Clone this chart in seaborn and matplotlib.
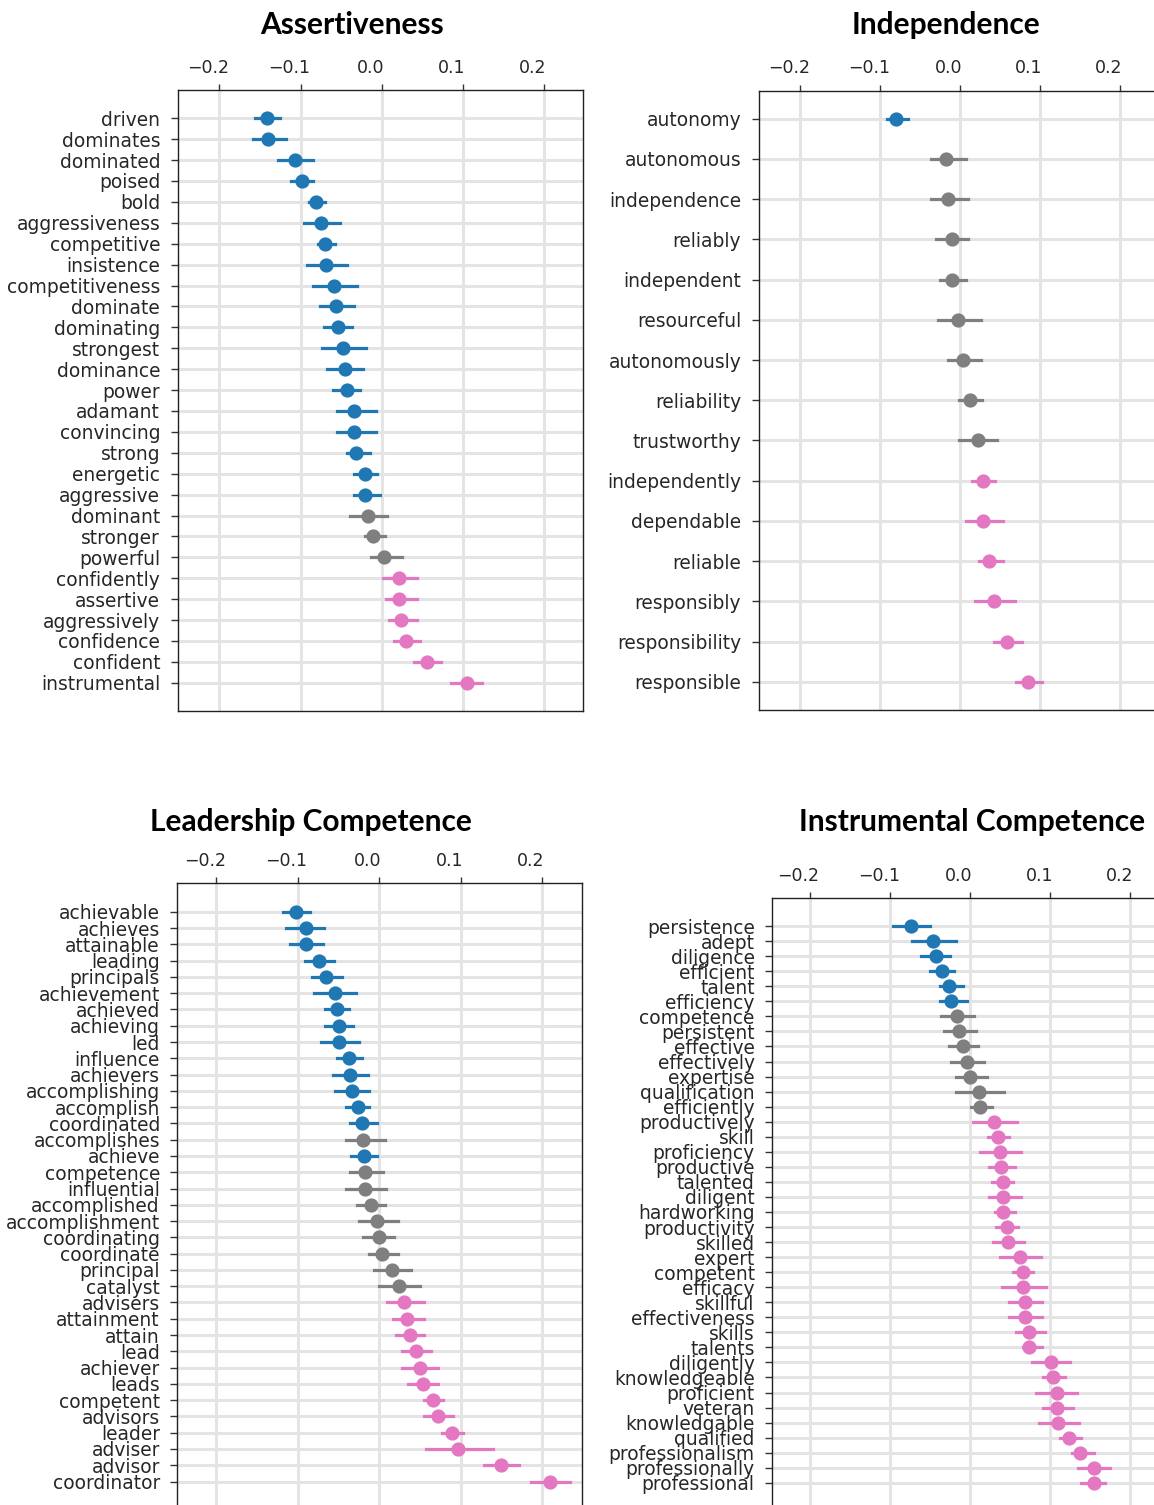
import numpy as np
import pandas as pd
import matplotlib
matplotlib.use("Agg")
import matplotlib.pyplot as plt
import seaborn as sns
from matplotlib.transforms import ScaledTranslation

# ---------------------------------------------------------------- data
# Each word: point estimate with lower / upper interval bound.
# Significance code: B = below zero, G = not significant, P = above zero.

assert_words = ["driven", "dominates", "dominated", "poised", "bold", "aggressiveness",
                "competitive", "insistence", "competitiveness", "dominate", "dominating",
                "strongest", "dominance", "power", "adamant", "convincing", "strong",
                "energetic", "aggressive", "dominant", "stronger", "powerful", "confidently",
                "assertive", "aggressively", "confidence", "confident", "instrumental"]
assert_mid = [-0.141, -0.140, -0.107, -0.098, -0.081, -0.075, -0.070, -0.068, -0.059, -0.056,
              -0.054, -0.047, -0.045, -0.043, -0.034, -0.034, -0.031, -0.020, -0.020, -0.017,
              -0.011, 0.003, 0.022, 0.022, 0.024, 0.030, 0.056, 0.105]
assert_lo = [-0.156, -0.159, -0.128, -0.112, -0.090, -0.096, -0.079, -0.092, -0.085, -0.076,
             -0.071, -0.073, -0.067, -0.060, -0.055, -0.055, -0.043, -0.034, -0.034, -0.039,
             -0.020, -0.013, 0.002, 0.005, 0.009, 0.016, 0.040, 0.086]
assert_hi = [-0.125, -0.118, -0.085, -0.084, -0.070, -0.051, -0.058, -0.042, -0.030, -0.034,
             -0.037, -0.019, -0.023, -0.026, -0.007, -0.007, -0.014, -0.005, -0.002, 0.007,
             0.004, 0.025, 0.044, 0.044, 0.044, 0.048, 0.073, 0.124]
assert_sig = list("BBBBBBBBBBBBBBBBBBBGGGPPPPPP")

indep_words = ["autonomy", "autonomous", "independence", "reliably", "independent",
               "resourceful", "autonomously", "reliability", "trustworthy", "independently",
               "dependable", "reliable", "responsibly", "responsibility", "responsible"]
indep_mid = [-0.080, -0.017, -0.015, -0.010, -0.010, -0.003, 0.004, 0.013, 0.022, 0.029,
             0.029, 0.036, 0.043, 0.059, 0.085]
indep_lo = [-0.091, -0.036, -0.036, -0.030, -0.025, -0.027, -0.015, -0.001, -0.001, 0.015,
            0.008, 0.024, 0.019, 0.042, 0.070]
indep_hi = [-0.065, 0.008, 0.010, 0.010, 0.008, 0.026, 0.026, 0.027, 0.046, 0.044,
            0.054, 0.054, 0.069, 0.077, 0.102]
indep_sig = list("BGGGGGGGGPPPPPP")

lead_words = ["achievable", "achieves", "attainable", "leading", "principals", "achievement",
              "achieved", "achieving", "led", "influence", "achievers", "accomplishing",
              "accomplish", "coordinated", "accomplishes", "achieve", "competence",
              "influential", "accomplished", "accomplishment", "coordinating", "coordinate",
              "principal", "catalyst", "advisers", "attainment", "attain", "lead", "achiever",
              "leads", "competent", "advisors", "leader", "adviser", "advisor", "coordinator"]
lead_mid = [-0.102, -0.090, -0.090, -0.074, -0.065, -0.054, -0.051, -0.049, -0.049, -0.037,
            -0.035, -0.033, -0.026, -0.021, -0.020, -0.019, -0.017, -0.017, -0.010, -0.003,
            0.000, 0.004, 0.016, 0.025, 0.031, 0.034, 0.038, 0.045, 0.050, 0.054,
            0.066, 0.073, 0.089, 0.097, 0.150, 0.210]
lead_lo = [-0.118, -0.114, -0.109, -0.091, -0.082, -0.080, -0.066, -0.066, -0.071, -0.052,
           -0.057, -0.054, -0.040, -0.036, -0.041, -0.034, -0.036, -0.041, -0.027, -0.024,
           -0.020, -0.012, -0.006, 0.000, 0.010, 0.017, 0.021, 0.028, 0.028, 0.035,
           0.055, 0.055, 0.077, 0.058, 0.129, 0.186]
lead_hi = [-0.085, -0.067, -0.069, -0.055, -0.046, -0.028, -0.037, -0.032, -0.025, -0.021,
           -0.014, -0.012, -0.012, -0.002, 0.007, -0.002, 0.005, 0.009, 0.007, 0.023,
           0.018, 0.023, 0.039, 0.050, 0.055, 0.055, 0.055, 0.064, 0.073, 0.073,
           0.078, 0.091, 0.103, 0.140, 0.172, 0.234]
lead_sig = list("BBBBBBBBBBBBBBGBGGGGGGGGPPPPPPPPPPPP")

instr_words = ["persistence", "adept", "diligence", "efficient", "talent", "efficiency",
               "competence", "persistent", "effective", "effectively", "expertise",
               "qualification", "efficiently", "productively", "skill", "proficiency",
               "productive", "talented", "diligent", "hardworking", "productivity", "skilled",
               "expert", "competent", "efficacy", "skillful", "effectiveness", "skills",
               "talents", "diligently", "knowledgeable", "proficient", "veteran",
               "knowledgable", "qualified", "professionalism", "professionally", "professional"]
instr_mid = [-0.074, -0.046, -0.043, -0.035, -0.026, -0.024, -0.016, -0.014, -0.009, -0.004,
             0.000, 0.011, 0.013, 0.030, 0.035, 0.037, 0.039, 0.041, 0.041, 0.041,
             0.046, 0.048, 0.062, 0.066, 0.066, 0.068, 0.068, 0.074, 0.074, 0.101,
             0.103, 0.108, 0.108, 0.110, 0.124, 0.137, 0.154, 0.154]
instr_lo = [-0.096, -0.072, -0.061, -0.050, -0.038, -0.038, -0.036, -0.033, -0.026, -0.024,
            -0.017, -0.017, 0.001, 0.004, 0.022, 0.013, 0.024, 0.027, 0.024, 0.031,
            0.033, 0.029, 0.038, 0.054, 0.040, 0.049, 0.049, 0.057, 0.066, 0.077,
            0.091, 0.082, 0.091, 0.086, 0.112, 0.127, 0.135, 0.139]
instr_hi = [-0.050, -0.018, -0.025, -0.020, -0.009, -0.004, 0.005, 0.007, 0.010, 0.017,
            0.021, 0.042, 0.028, 0.058, 0.049, 0.063, 0.056, 0.054, 0.063, 0.056,
            0.060, 0.067, 0.088, 0.079, 0.095, 0.090, 0.090, 0.093, 0.090, 0.125,
            0.118, 0.134, 0.129, 0.136, 0.138, 0.154, 0.175, 0.168]
instr_sig = list("BBBBBBGGGGGGGPPPPPPPPPPPPPPPPPPPPPPPPP")

xticks = [-0.2, -0.1, 0.0, 0.1, 0.2]

# ---------------------------------------------------------------- style
W, H, DPI = 1154, 1505, 100
palette = {"B": "#1f77b4", "G": "#7f7f7f", "P": "#e377c2"}
text_col = "#262626"
grid_col = "#e4e4e4"

plt.rcParams.update({
    "font.family": ["DejaVu Sans"],
    "axes.edgecolor": "#222222",
    "axes.linewidth": 1.0,
})


def long_frame(words, lo, mid, hi, sig):
    rows = []
    for w, a, m, b, s in zip(words, lo, mid, hi, sig):
        for v in (a, m, b):
            rows.append({"word": w, "value": v, "sig": s})
    return pd.DataFrame(rows)


fig = plt.figure(figsize=(W / DPI, H / DPI), dpi=DPI)


def panel(words, lo, mid, hi, sig, left, right, zero, unit, top, bottom, title, title_xy):
    ax = fig.add_axes([left / W, 1 - bottom / H, (right - left) / W, (bottom - top) / H])
    df = long_frame(words, lo, mid, hi, sig)
    sns.pointplot(data=df, x="value", y="word", hue="sig", order=words,
                  hue_order=["B", "G", "P"], palette=palette,
                  estimator="median", errorbar=("pi", 100),
                  linestyle="none", markers="o", markersize=8.2,
                  err_kws={"linewidth": 2.3}, dodge=False, legend=False, ax=ax)
    n = len(words)
    ax.set_ylim(n - 1 + 0.05 * (n - 1), -0.05 * (n - 1))
    ax.set_xlim((left - zero) / unit, (right - zero) / unit)
    ax.set_xticks(xticks)
    ax.set_xticklabels([f"{t:.1f}".replace("-", "\u2212") for t in xticks])
    ax.xaxis.tick_top()
    ax.set_xlabel("")
    ax.set_ylabel("")
    ax.set_axisbelow(True)
    ax.grid(True, axis="both", color=grid_col, linewidth=2.2)
    ax.tick_params(axis="y", length=5, width=1, pad=7.5, labelsize=13.4,
                   labelcolor=text_col, color="#333333")
    ax.tick_params(axis="x", length=4.5, width=1, pad=5, labelsize=12.5,
                   labelcolor=text_col, color="#333333", top=True, bottom=False)
    shift = ScaledTranslation(-11 / DPI, 0, fig.dpi_scale_trans)
    for lab in ax.get_xticklabels():
        lab.set_transform(lab.get_transform() + shift)
    for sp in ax.spines.values():
        sp.set_visible(True)
    fig.text(title_xy[0] / W, 1 - title_xy[1] / H, title, ha="center", va="center",
             fontsize=21.5, fontweight="bold", family=["Lato", "DejaVu Sans"], color="black")
    return ax


panel(assert_words, assert_lo, assert_mid, assert_hi, assert_sig,
      177.5, 583, 381.5, 810, 90, 711, "Assertiveness", (352, 25))
panel(indep_words, indep_lo, indep_mid, indep_hi, indep_sig,
      758.5, 1160, 960, 800, 90.5, 710, "Independence", (946, 25))
panel(lead_words, lead_lo, lead_mid, lead_hi, lead_sig,
      177.3, 582, 379, 815, 883.3, 1510, "Leadership Competence", (311, 822))
panel(instr_words, instr_lo, instr_mid, instr_hi, instr_sig,
      772, 1173, 970, 802, 898.3, 1510.6, "Instrumental Competence", (972, 822))

fig.savefig("out.png", dpi=DPI)
